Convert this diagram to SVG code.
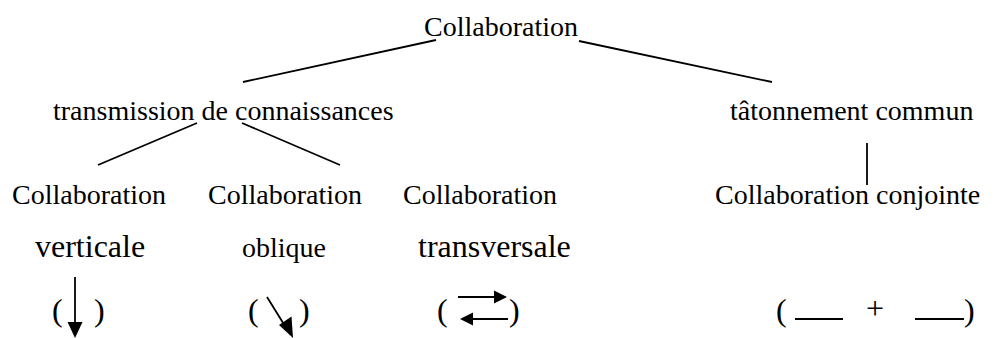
<svg xmlns="http://www.w3.org/2000/svg" width="993" height="338" viewBox="0 0 993 338">
<style>
text{font-family:"Liberation Serif","Times New Roman",serif;fill:#000}
.t28{font-size:28px}
.t32{font-size:32px}
.ln{stroke:#000;stroke-width:1.8;fill:none}
</style>
<rect width="993" height="338" fill="#fff"/>
<g id="connectors">
<line class="ln" x1="436" y1="40" x2="243" y2="82"/>
<line class="ln" x1="579" y1="41" x2="772" y2="82"/>
<line class="ln" x1="197" y1="123" x2="98" y2="165"/>
<line class="ln" x1="242" y1="123" x2="340" y2="165"/>
<line class="ln" x1="867" y1="143" x2="867" y2="185"/>
</g>
<g id="n-collaboration"><text class="t28" x="424" y="36">Collaboration</text></g>
<g id="n-transmission"><text class="t28" x="53" y="120">transmission de connaissances</text></g>
<g id="n-tatonnement"><text class="t28" x="730" y="120">tâtonnement commun</text></g>
<g id="n-verticale">
<text class="t28" x="12" y="204">Collaboration</text>
<text class="t32" x="35" y="257">verticale</text>
<text class="t32" x="52" y="321">(</text>
<text class="t32" x="94" y="321">)</text>
<line class="ln" x1="75" y1="277" x2="75" y2="324"/>
<path d="M67.5,322 L82.5,322 L75,338 Z" fill="#000"/>
</g>
<g id="n-oblique">
<text class="t28" x="208" y="204">Collaboration</text>
<text class="t28" x="242" y="257">oblique</text>
<text class="t32" x="248" y="321">(</text>
<text class="t32" x="299" y="321">)</text>
<line class="ln" x1="267" y1="297" x2="285" y2="326"/>
<path d="M279,325 L291.5,316.5 L293,338 Z" fill="#000"/>
</g>
<g id="n-transversale">
<text class="t28" x="403" y="204">Collaboration</text>
<text class="t32" x="418" y="257">transversale</text>
<text class="t32" x="437" y="321">(</text>
<text class="t32" x="509" y="321">)</text>
<line class="ln" x1="458" y1="297" x2="496" y2="297"/>
<path d="M494,290.5 L507,297 L494,303.5 Z" fill="#000"/>
<line class="ln" x1="472" y1="319" x2="508" y2="319"/>
<path d="M473,312.5 L460,319 L473,325.5 Z" fill="#000"/>
</g>
<g id="n-conjointe">
<text class="t28" x="715" y="204">Collaboration conjointe</text>
<text class="t32" x="776" y="321">(</text>
<text class="t32" x="866" y="319">+</text>
<text class="t32" x="964" y="321">)</text>
<line class="ln" x1="795" y1="319" x2="843" y2="319"/>
<line class="ln" x1="915" y1="319" x2="964" y2="319"/>
</g>
</svg>
